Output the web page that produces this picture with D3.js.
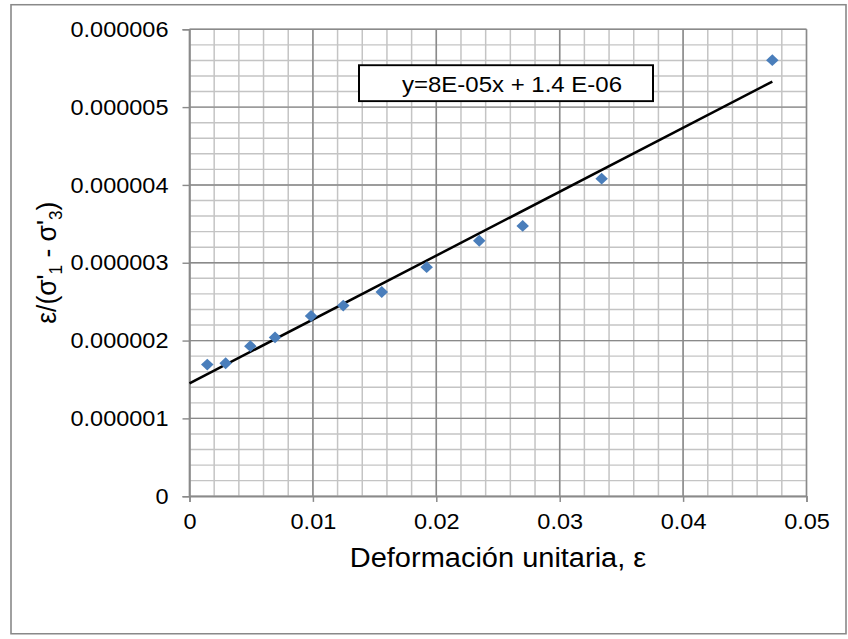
<!DOCTYPE html>
<html>
<head>
<meta charset="utf-8">
<script src="https://cdn.jsdelivr.net/npm/d3@7"></script>
<style>
  html, body { margin: 0; padding: 0; background: #fff; }
  svg { display: block; font-family: "Liberation Sans", Arial, sans-serif; }
</style>
</head>
<body>
<svg id="chart" width="848" height="639"></svg>
<script>
// Data
const strainX = [0.00144, 0.00293, 0.00493, 0.00693, 0.00985, 0.01246, 0.01558, 0.01922, 0.02348, 0.0270, 0.0334, 0.04723];
const ratioY  = [1.692e-6, 1.709e-6, 1.928e-6, 2.041e-6, 2.316e-6, 2.450e-6, 2.624e-6, 2.943e-6, 3.283e-6, 3.474e-6, 4.081e-6, 5.603e-6];
const trendSlope = 8.21e-5;
const trendIntercept = 1.45e-6;
const xTicks = [0, 0.01, 0.02, 0.03, 0.04, 0.05];
const xTickLabels = ["0", "0.01", "0.02", "0.03", "0.04", "0.05"];
const yTicks = [0, 1e-6, 2e-6, 3e-6, 4e-6, 5e-6, 6e-6];
const yTickLabels = ["0", "0.000001", "0.000002", "0.000003", "0.000004", "0.000005", "0.000006"];
const equationText = "y=8E-05x + 1.4 E-06";

const svg = d3.select("#chart");
const root = svg.append("g").attr("transform", "scale(1, 0.9452)");
const L = 189.5, R = 806.5, T = 31, B = 525;

// outer frame
root.append("rect").attr("x", 11).attr("y", 5).attr("width", 835).attr("height", 665.5)
  .attr("fill", "#fff").attr("stroke", "#898989").attr("stroke-width", 1.6);

const x = d3.scaleLinear().domain([0, 0.05]).range([L, R]);
const y = d3.scaleLinear().domain([0, 6e-6]).range([B, T]);

// minor grid
const xMinor = d3.range(0, 0.0501, 0.002);
const yMinor = d3.range(0, 6.01e-6, 0.2e-6);
const g = root.append("g");
g.selectAll(".vm").data(xMinor).join("line")
  .attr("x1", d => x(d)).attr("x2", d => x(d)).attr("y1", T).attr("y2", B)
  .attr("stroke", "#c4c4c4").attr("stroke-width", 1.5);
g.selectAll(".hm").data(yMinor).join("line")
  .attr("x1", L).attr("x2", R).attr("y1", d => y(d)).attr("y2", d => y(d))
  .attr("stroke", "#c4c4c4").attr("stroke-width", 1.5);
// major grid
g.selectAll(".vM").data(xTicks).join("line")
  .attr("x1", d => x(d)).attr("x2", d => x(d)).attr("y1", T).attr("y2", B)
  .attr("stroke", "#8a8a8a").attr("stroke-width", 1.5);
g.selectAll(".hM").data(yTicks).join("line")
  .attr("x1", L).attr("x2", R).attr("y1", d => y(d)).attr("y2", d => y(d))
  .attr("stroke", "#8a8a8a").attr("stroke-width", 1.5);

// axes
const xAxis = d3.axisBottom(x).tickValues(xTicks).tickFormat((d, i) => xTickLabels[i]).tickSize(6).tickPadding(12);
const yAxis = d3.axisLeft(y).tickValues(yTicks).tickFormat((d, i) => yTickLabels[i]).tickSize(7).tickPadding(14);
const gx = root.append("g").attr("transform", `translate(0,${B})`).call(xAxis);
const gy = root.append("g").attr("transform", `translate(${L},0)`).call(yAxis);
[gx, gy].forEach(a => {
  a.select(".domain").attr("stroke", "#8a8a8a").attr("stroke-width", 1.5);
  a.selectAll(".tick line").attr("stroke", "#8a8a8a").attr("stroke-width", 1.5);
  a.selectAll("text").attr("font-size", 23.5).attr("fill", "#000")
    .attr("font-family", "'Liberation Sans', Arial, sans-serif");
});

// trendline
root.append("line")
  .attr("x1", x(0)).attr("y1", y(trendIntercept))
  .attr("x2", x(d3.max(strainX))).attr("y2", y(trendIntercept + trendSlope * d3.max(strainX)))
  .attr("stroke", "#000").attr("stroke-width", 2.6);

// markers
const pts = strainX.map((v, i) => [v, ratioY[i]]);
root.selectAll(".pt").data(pts).join("path")
  .attr("d", d3.symbol().type(d3.symbolDiamond2).size(100))
  .attr("transform", d => `translate(${x(d[0])},${y(d[1])})`)
  .attr("fill", "#4a7ebb");

// equation box
root.append("rect").attr("x", 359).attr("y", 69).attr("width", 294).attr("height", 38)
  .attr("fill", "#fff").attr("stroke", "#000").attr("stroke-width", 2);
root.append("text").attr("x", 512).attr("y", 97).attr("text-anchor", "middle")
  .attr("font-size", 24).text(equationText);

// axis titles
root.append("text").attr("x", (L + R) / 2).attr("y", 600).attr("text-anchor", "middle")
  .attr("font-size", 29).text("Deformación unitaria, ε");

const yt = root.append("text").attr("transform", `translate(56,${(T + B) / 2}) rotate(-90)`)
  .attr("text-anchor", "middle").attr("font-size", 28);
yt.append("tspan").text("ε/(σ'");
yt.append("tspan").attr("font-size", 18).attr("dy", 6).text("1");
yt.append("tspan").attr("dy", -6).text(" - σ'");
yt.append("tspan").attr("font-size", 18).attr("dy", 6).text("3");
yt.append("tspan").attr("dy", -6).text(")");
</script>
</body>
</html>
